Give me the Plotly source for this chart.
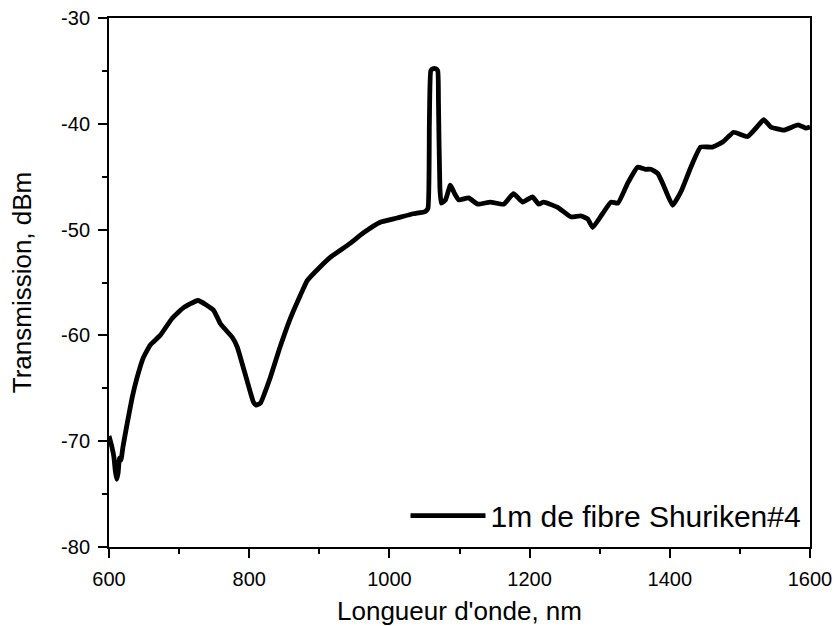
import plotly.graph_objects as go

wavelength_nm = [600, 604, 607, 609, 611, 613, 615, 617, 620, 626, 633, 640, 649, 659, 673, 690, 706,
                 727, 749, 759, 776, 783, 797, 806, 810, 816, 830, 844, 858, 873, 883, 900, 916, 944, 963,
                 987, 1011, 1034, 1051, 1055, 1057, 1059, 1062, 1066, 1069, 1070, 1072, 1074, 1080, 1087,
                 1093, 1099, 1113, 1126, 1144, 1163, 1177, 1190, 1204, 1213, 1220, 1240, 1259, 1273, 1283,
                 1290, 1304, 1316, 1326, 1340, 1354, 1365, 1373, 1383, 1391, 1404, 1416, 1430, 1444, 1461,
                 1476, 1491, 1511, 1523, 1534, 1544, 1563, 1583, 1594, 1600]
transmission_dbm = [-69.5, -70.5, -71.5, -72.8, -73.6, -73.0, -71.6, -71.8, -70.5, -68.3, -65.9, -64.0,
                    -62.1, -60.9, -60.0, -58.4, -57.4, -56.7, -57.6, -58.9, -60.2, -61.1, -64.3, -66.3,
                    -66.6, -66.4, -64.0, -61.1, -58.5, -56.2, -54.8, -53.6, -52.6, -51.3, -50.3, -49.3,
                    -48.9, -48.5, -48.3, -48.0, -40.0, -35.0, -34.8, -34.8, -35.0, -38.0, -46.0, -47.5,
                    -47.2, -45.8, -46.6, -47.2, -47.0, -47.6, -47.4, -47.6, -46.6, -47.4, -46.9, -47.6,
                    -47.4, -47.9, -48.8, -48.7, -49.0, -49.8, -48.5, -47.4, -47.5, -45.6, -44.1, -44.3,
                    -44.3, -44.7, -45.8, -47.7, -46.4, -44.1, -42.2, -42.2, -41.7, -40.8, -41.2, -40.4,
                    -39.6, -40.3, -40.6, -40.1, -40.4, -40.3]
series_name = "1m de fibre Shuriken#4"
x_ticks = [600, 800, 1000, 1200, 1400, 1600]
x_tick_labels = ["600", "800", "1000", "1200", "1400", "1600"]
y_ticks = [-80, -70, -60, -50, -40, -30]
y_tick_labels = ["-80", "-70", "-60", "-50", "-40", "-30"]

font = "Liberation Sans, Arial, sans-serif"

fig = go.Figure()
fig.add_trace(go.Scatter(
    x=wavelength_nm, y=transmission_dbm, mode="lines", name=series_name,
    line=dict(color="black", width=4.8, shape="spline", smoothing=0.4),
))

axis_common = dict(
    showline=True, linecolor="black", linewidth=2, mirror=True,
    ticks="outside", ticklen=9, tickwidth=2, tickcolor="black",
    showgrid=False, zeroline=False, automargin=False,
    tickfont=dict(family=font, size=20, color="black"),
)

fig.update_xaxes(
    range=[600, 1600], tickvals=x_ticks, ticktext=x_tick_labels, ticklabelstandoff=4,
    minor=dict(ticks="outside", ticklen=5, tickwidth=2, tickcolor="black", dtick=100, tick0=600),
    title=dict(text="Longueur d'onde, nm", font=dict(family=font, size=26, color="black"), standoff=14),
    **axis_common,
)
fig.update_yaxes(
    range=[-80, -30], tickvals=y_ticks, ticktext=y_tick_labels, ticklabelstandoff=4,
    minor=dict(ticks="outside", ticklen=5, tickwidth=2, tickcolor="black", dtick=5, tick0=-80),
    title=dict(text="Transmission, dBm", font=dict(family=font, size=26, color="black"), standoff=22),
    **axis_common,
)

fig.update_layout(
    width=835, height=626,
    margin=dict(l=109, r=25, t=18, b=79),
    plot_bgcolor="white", paper_bgcolor="white",
    showlegend=True,
    legend=dict(x=0.995, y=0.01, xanchor="right", yanchor="bottom",
                font=dict(family=font, size=30, color="black"),
                bgcolor="rgba(0,0,0,0)", itemwidth=75),
)

fig.write_html("out.html", config={"displayModeBar": False},
               post_script="document.body.style.margin='0';")
